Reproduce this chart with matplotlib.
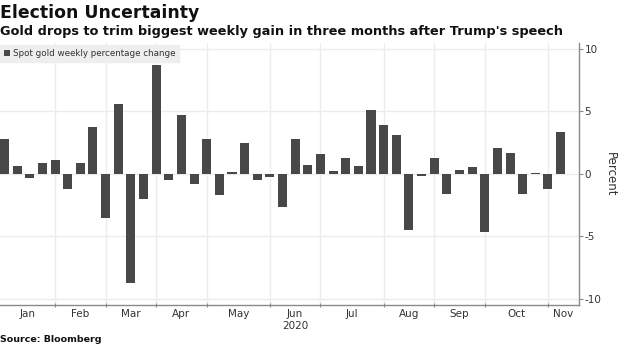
import matplotlib
matplotlib.use("Agg")
import matplotlib.pyplot as plt
import matplotlib.dates as mdates
import pandas as pd
import numpy as np

# Week-ending dates (Fridays) for 2020
week_start = "2020-01-03"
n_weeks = 45
weekly_change = [
    2.75, 0.66, -0.31, 0.89, 1.10, -1.21, 0.87, 3.78, -3.54, 5.62,
    -8.71, -2.05, 8.74, -0.47, 4.72, -0.84, 2.81, -1.71, 0.13, 2.44,
    -0.50, -0.24, -2.68, 2.76, 0.74, 1.60, 0.26, 1.28, 0.66, 5.13,
    3.90, 3.07, -4.49, -0.21, 1.28, -1.60, 0.34, 0.55, -4.65, 2.09,
    1.65, -1.65, 0.10, -1.23, 3.38,
]
month_labels = ["Jan", "Feb", "Mar", "Apr", "May", "Jun\n2020", "Jul", "Aug", "Sep", "Oct", "Nov"]
y_ticks = [10, 5, 0, -5, -10]
series_name = "Spot gold weekly percentage change"
title = "Election Uncertainty"
subtitle = "Gold drops to trim biggest weekly gain in three months after Trump's speech"
source = "Source: Bloomberg"

dates = pd.date_range(week_start, periods=n_weeks, freq="W-FRI")
values = np.array(weekly_change)

W, H = 620, 348
fig = plt.figure(figsize=(W / 100, H / 100), dpi=100)
ax = fig.add_axes([0, (H - 305) / H, 579 / W, (305 - 42.5) / H])

xnum = mdates.date2num(dates.to_pydatetime())
ax.bar(xnum, values, width=5.0, color="#484848", label=series_name, zorder=3)

xmin = mdates.date2num(pd.Timestamp("2019-12-31 12:00").to_pydatetime())
xmax = mdates.date2num(pd.Timestamp("2020-11-16 05:00").to_pydatetime())
ax.set_xlim(xmin, xmax)
ax.set_ylim(-10.5, 10.5)

# Major ticks at last week of each month
s = pd.Series(xnum, index=dates)
last_weeks = s.groupby([dates.year, dates.month]).max().values
major = [v for v in last_weeks if v < xnum[-1]]
ax.set_xticks(major)
ax.set_xticklabels([""] * len(major))
bounds = [xmin] + list(major) + [xmax]
mids = [(bounds[i] + bounds[i + 1]) / 2 for i in range(len(bounds) - 1)]
ax.set_xticks(mids, minor=True)
ax.set_xticklabels(month_labels, minor=True)
ax.tick_params(axis="x", which="minor", length=0, labelsize=7.5, colors="#333333", pad=3)
ax.tick_params(axis="x", which="major", length=3, color="#888888", direction="inout")

ax.yaxis.tick_right()
ax.yaxis.set_label_position("right")
ax.set_yticks(y_ticks)
ax.set_yticklabels([str(t) for t in y_ticks])
ax.tick_params(axis="y", length=3, color="#888888", labelsize=7.5, labelcolor="#333333", pad=1)
ax.set_ylabel("Percent", rotation=-90, fontsize=8.5, color="#333333", labelpad=11)

ax.grid(True, axis="y", color="#ececec", linewidth=1, zorder=0)
ax.grid(True, axis="x", which="major", color="#ececec", linewidth=1, zorder=0)
for sp in ["top", "left"]:
    ax.spines[sp].set_visible(False)
for sp in ["right", "bottom"]:
    ax.spines[sp].set_color("#8a8a8a")
    ax.spines[sp].set_linewidth(1)

leg = ax.legend(loc="upper left", bbox_to_anchor=(0, 0.99), fontsize=6.3, frameon=True,
                fancybox=False, framealpha=1, facecolor="#eeeeee", edgecolor="#eeeeee",
                handlelength=0.7, handleheight=0.7, handletextpad=0.3, borderpad=0.45,
                borderaxespad=0)
for t in leg.get_texts():
    t.set_color("#333333")

fig.text(0.0, 1 - 4 / H, title, fontsize=12.4, fontweight="bold", va="top", ha="left", color="#111111")
fig.text(0.0, 1 - 25 / H, subtitle, fontsize=9.3, fontweight="bold", va="top", ha="left", color="#111111")
fig.text(0.0, 1 - 335 / H, source, fontsize=6.8, fontweight="bold", va="top", ha="left", color="#111111")

fig.savefig("out.png", dpi=100)
